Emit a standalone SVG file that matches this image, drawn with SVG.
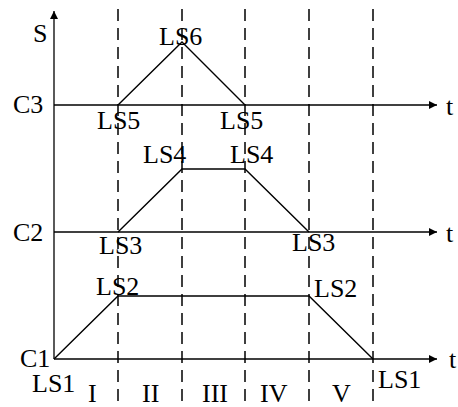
<svg xmlns="http://www.w3.org/2000/svg" width="458" height="407" viewBox="0 0 458 407">
<defs>
<marker id="ah" markerWidth="9" markerHeight="8" refX="8" refY="4" orient="auto" markerUnits="userSpaceOnUse">
<path d="M0,0 L8,4 L0,8 Z" fill="#000"/>
</marker>
<style>
.ax{stroke:#000;stroke-width:1.3;fill:none}
.ds{stroke:#000;stroke-width:1.5;stroke-dasharray:12 7;fill:none}
.pl{stroke:#000;stroke-width:1.4;fill:none}
text{font-family:"Liberation Serif","Times New Roman",serif;font-size:26px;fill:#000}
</style>
</defs>
<rect width="458" height="407" fill="#fff"/>
<g id="grid">
<line class="ds" x1="118" y1="9" x2="118" y2="407"/>
<line class="ds" x1="182" y1="9" x2="182" y2="407"/>
<line class="ds" x1="245" y1="9" x2="245" y2="407"/>
<line class="ds" x1="309" y1="9" x2="309" y2="407"/>
<line class="ds" x1="373" y1="9" x2="373" y2="407"/>
</g>
<g id="axes">
<line class="ax" x1="54" y1="359" x2="54" y2="11" marker-end="url(#ah)"/>
<line class="ax" x1="54" y1="105" x2="437" y2="105" marker-end="url(#ah)"/>
<line class="ax" x1="54" y1="232" x2="437" y2="232" marker-end="url(#ah)"/>
<line class="ax" x1="54" y1="359" x2="437" y2="359" marker-end="url(#ah)"/>
</g>
<g id="connectors">
<polyline class="pl" points="118,105 182,42 245,105"/>
<polyline class="pl" points="118,232 182,169 245,169 309,232"/>
<polyline class="pl" points="54,359 118,296 309,296 373,359"/>
</g>
<g id="labels">
<text x="33" y="42">S</text>
<text x="446" y="115">t</text>
<text x="446" y="242">t</text>
<text x="449" y="368">t</text>
<text x="13" y="113">C3</text>
<text x="13" y="241">C2</text>
<text x="20" y="367">C1</text>
<text x="159" y="45">LS6</text>
<text x="97" y="129">LS5</text>
<text x="220" y="129">LS5</text>
<text x="143" y="163">LS4</text>
<text x="230" y="163">LS4</text>
<text x="99" y="254">LS3</text>
<text x="292" y="251">LS3</text>
<text x="96" y="295">LS2</text>
<text x="314" y="297">LS2</text>
<text x="32" y="392">LS1</text>
<text x="378" y="388">LS1</text>
<text x="88" y="402">I</text>
<text x="142" y="402">II</text>
<text x="202" y="402">III</text>
<text x="260" y="402">IV</text>
<text x="332" y="402">V</text>
</g>
</svg>
